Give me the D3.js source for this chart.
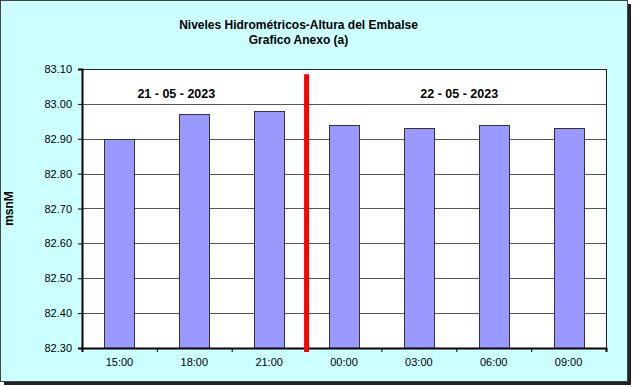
<!DOCTYPE html>
<html>
<head>
<meta charset="utf-8">
<script src="https://cdn.jsdelivr.net/npm/d3@7"></script>
<style>
  body { margin: 0; background: #fff; }
  text { font-family: Arial, "Liberation Sans", sans-serif; }
</style>
</head>
<body>
<svg width="633" height="387"></svg>
<script>
var horas = ["15:00", "18:00", "21:00", "00:00", "03:00", "06:00", "09:00"];
var niveles = [82.90, 82.97, 82.98, 82.94, 82.93, 82.94, 82.93];
var yTicks = [82.30, 82.40, 82.50, 82.60, 82.70, 82.80, 82.90, 83.00, 83.10];
var fechas = ["21 - 05 - 2023", "22 - 05 - 2023"];
var fechaPos = [1.26, 5.04];   // posicion en unidades de categoria
var corte = 3;                 // cambio de dia entre 21:00 y 00:00
var titulo = ["Niveles Hidrométricos-Altura del Embalse", "Grafico Anexo (a)"];

var margin = {left: 82, right: 27, top: 69, bottom: 39};
var W = 633, H = 387;
var width = W - margin.left - margin.right;
var height = H - margin.top - margin.bottom;

var svg = d3.select("svg");

// marco exterior con sombra
svg.append("rect").attr("x", 4).attr("y", 4).attr("width", 627).attr("height", 381).attr("fill", "#222");
svg.append("rect").attr("x", 0.5).attr("y", 0.5).attr("width", 627).attr("height", 381)
  .attr("fill", "#CCFFFF").attr("stroke", "#444");

var x = d3.scaleBand().domain(horas).range([0, width]).paddingInner(0.6).paddingOuter(0.3);
var xc = d3.scaleLinear().domain([0, horas.length]).range([0, width]);
var y = d3.scaleLinear().domain([82.3, 83.1]).range([height, 0]);

var g = svg.append("g").attr("transform", "translate(" + margin.left + "," + margin.top + ")");

g.append("rect").attr("width", width).attr("height", height).attr("fill", "#fff");

// lineas de division
g.selectAll(".grid").data(yTicks.slice(1)).enter().append("line")
  .attr("x1", 0).attr("x2", width)
  .attr("y1", function(d){ return Math.round(y(d)) + 0.5; })
  .attr("y2", function(d){ return Math.round(y(d)) + 0.5; })
  .attr("stroke", "#555").attr("stroke-width", 1);

g.append("rect").attr("x", 0.5).attr("y", 0.5).attr("width", width).attr("height", height)
  .attr("fill", "none").attr("stroke", "#222");

// barras
g.selectAll(".bar").data(niveles).enter().append("rect")
  .attr("x", function(d, i){ return Math.round(x(horas[i])) + 0.5; })
  .attr("width", Math.round(x.bandwidth()))
  .attr("y", function(d){ return Math.round(y(d)) + 0.5; })
  .attr("height", function(d){ return height - Math.round(y(d)); })
  .attr("fill", "#9999FF").attr("stroke", "#333").attr("stroke-width", 1);

// eje Y
var yAxis = g.append("g")
  .call(d3.axisLeft(y).tickValues(yTicks).tickFormat(d3.format(".2f")).tickSize(4).tickPadding(6));
yAxis.select(".domain").attr("stroke", "#000").attr("stroke-width", 2);
yAxis.selectAll("text").attr("font-size", "11px").attr("fill", "#000");

// eje X: marcas en los limites de categoria
var xAxis = g.append("g").attr("transform", "translate(0," + height + ")")
  .call(d3.axisBottom(xc).tickValues(d3.range(horas.length + 1)).tickFormat("").tickSize(4));
xAxis.select(".domain").attr("stroke", "#000").attr("stroke-width", 2);

var xLab = g.append("g").attr("transform", "translate(0," + height + ")")
  .call(d3.axisBottom(x).tickSize(0).tickPadding(10));
xLab.select(".domain").remove();
xLab.selectAll("text").attr("font-size", "11px").attr("fill", "#000");

// linea roja de cambio de dia
g.append("line")
  .attr("x1", xc(corte)).attr("x2", xc(corte))
  .attr("y1", y(83.085)).attr("y2", y(82.3) + 4)
  .attr("stroke", "#FF0000").attr("stroke-width", 5);

// fechas
g.selectAll(".fecha").data(fechas).enter().append("text")
  .attr("x", function(d, i){ return xc(fechaPos[i]); })
  .attr("y", y(83.018))
  .attr("text-anchor", "middle")
  .attr("font-size", "12.5px").attr("font-weight", "bold")
  .text(function(d){ return d; });

// titulo
svg.selectAll(".titulo").data(titulo).enter().append("text")
  .attr("x", 298.5).attr("y", function(d, i){ return 29 + i * 15; })
  .attr("text-anchor", "middle")
  .attr("font-size", "12px").attr("font-weight", "bold")
  .text(function(d){ return d; });

svg.append("text")
  .attr("transform", "translate(13," + (margin.top + height / 2) + ") rotate(-90)")
  .attr("text-anchor", "middle")
  .attr("font-size", "12px").attr("font-weight", "bold")
  .text("msnM");
</script>
</body>
</html>
